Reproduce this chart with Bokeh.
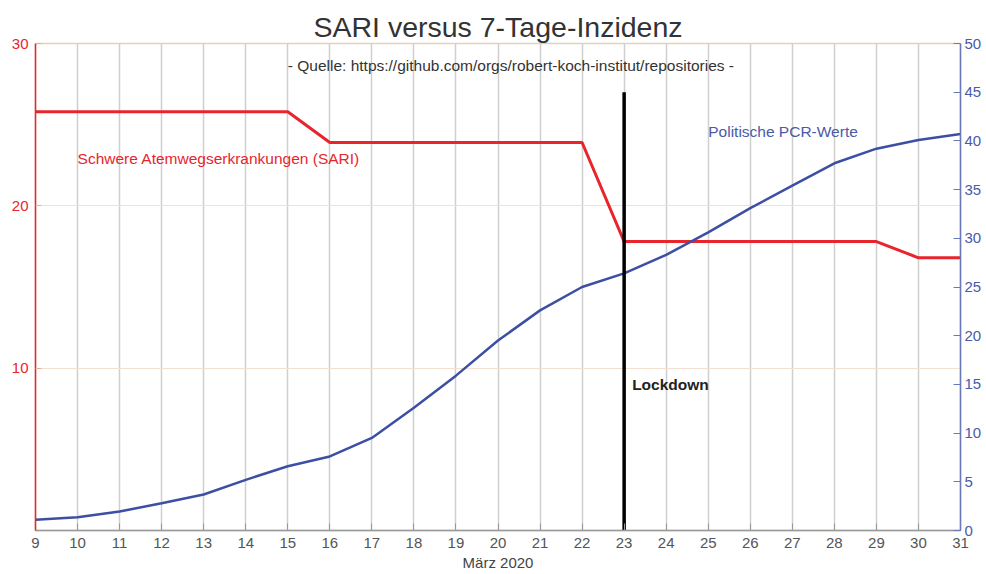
from bokeh.plotting import figure
from bokeh.models import Range1d, LinearAxis, FixedTicker, Label, ColumnDataSource
from bokeh.embed import file_html
from bokeh.resources import INLINE

# ---- data ----
days = list(range(9, 32))
sari = [25.8, 25.8, 25.8, 25.8, 25.8, 25.8, 25.8,
        23.9, 23.9, 23.9, 23.9, 23.9, 23.9, 23.9,
        17.8, 17.8, 17.8, 17.8, 17.8, 17.8, 17.8,
        16.8, 16.8]
pcr = [1.1, 1.35, 1.95, 2.8, 3.7, 5.2, 6.6, 7.6, 9.5, 12.6, 15.9, 19.5,
       22.6, 25.0, 26.4, 28.3, 30.6, 33.1, 35.4, 37.7, 39.2, 40.1, 40.7]
lockdown_day = [23]
lockdown_top = [45]
left_ticks = [10, 20, 30]
right_ticks = [0, 5, 10, 15, 20, 25, 30, 35, 40, 45, 50]

title_text = "SARI versus 7-Tage-Inzidenz"
subtitle_text = "- Quelle: https://github.com/orgs/robert-koch-institut/repositories -"
sari_label = "Schwere Atemwegserkrankungen (SARI)"
pcr_label = "Politische PCR-Werte"
lock_label = "Lockdown"
x_label = "März 2020"

RED = "#e8252d"
BLUE = "#3c4fa3"
FONT = "Liberation Sans"

src = ColumnDataSource(dict(day=days, sari=sari, pcr=pcr))

p = figure(width=984, height=573, output_backend="svg",
           toolbar_location=None, x_range=Range1d(9, 31), y_range=Range1d(0, 30),
           min_border_left=35, min_border_right=0, min_border_top=43,
           min_border_bottom=0, background_fill_color="white",
           border_fill_color="white")
p.extra_y_ranges = {"pcr": Range1d(0, 50)}

p.title.text = title_text
p.title.align = "center"
p.title.vertical_align = "middle"
p.title.text_font = FONT
p.title.text_font_size = "28.5px"
p.title.text_font_style = "normal"
p.title.text_color = "#333333"
p.title.standoff = 0
p.title.offset = 0

p.outline_line_color = "#e8cfb8"
p.outline_line_width = 1.5

# x axis
xa = p.xaxis[0]
xa.ticker = FixedTicker(ticks=days)
xa.axis_line_color = "#999999"
xa.axis_line_width = 1.5
xa.major_tick_in = 7
xa.major_tick_out = 0
xa.major_tick_line_color = "#999999"
xa.minor_tick_line_color = None
xa.major_label_text_font = FONT
xa.major_label_text_font_size = "15px"
xa.major_label_text_color = "#555555"
xa.major_label_standoff = 7
xa.axis_label = x_label
xa.axis_label_text_font = FONT
xa.axis_label_text_font_size = "15px"
xa.axis_label_text_font_style = "normal"
xa.axis_label_text_color = "#444444"
xa.axis_label_standoff = 3

# left axis
ya = p.yaxis[0]
ya.ticker = FixedTicker(ticks=left_ticks)
ya.axis_line_color = RED
ya.axis_line_width = 1.5
ya.major_tick_in = 6
ya.major_tick_out = 0
ya.major_tick_line_color = "#e8b0a0"
ya.minor_tick_line_color = None
ya.major_label_text_font = FONT
ya.major_label_text_font_size = "15px"
ya.major_label_text_color = RED
ya.major_label_standoff = 7

# right axis
ra = LinearAxis(y_range_name="pcr", ticker=FixedTicker(ticks=right_ticks))
ra.axis_line_color = "#6a78b5"
ra.axis_line_width = 1.5
ra.major_tick_in = 7
ra.major_tick_out = 0
ra.major_tick_line_color = "#6a78b5"
ra.minor_tick_line_color = None
ra.major_label_text_font = FONT
ra.major_label_text_font_size = "15px"
ra.major_label_text_color = "#4a5aa8"
ra.major_label_standoff = 4
p.add_layout(ra, "right")

# grids
p.xgrid.ticker = FixedTicker(ticks=days)
p.xgrid.grid_line_color = "#cfcfcf"
p.xgrid.grid_line_width = 1.5
p.ygrid.ticker = FixedTicker(ticks=[10, 20])
p.ygrid.grid_line_color = "#f2e0d0"
p.ygrid.grid_line_width = 1.2

# lines
p.line("day", "sari", source=src, line_color=RED, line_width=3)
p.line("day", "pcr", source=src, line_color=BLUE, line_width=2.5,
       y_range_name="pcr")
p.segment(x0=lockdown_day, y0=[0], x1=lockdown_day, y1=lockdown_top,
          line_color="black", line_width=3.5, y_range_name="pcr")

# labels
p.add_layout(Label(x=15, y=28.65, text=subtitle_text, text_font=FONT,
                   text_font_size="15.5px", text_color="#333333",
                   text_baseline="middle", text_align="left"))
p.add_layout(Label(x=10.0, y=22.9, text=sari_label, text_font=FONT,
                   text_font_size="15.5px", text_color=RED,
                   text_baseline="middle", text_align="left"))
p.add_layout(Label(x=25.0, y=41.0, y_range_name="pcr", text=pcr_label,
                   text_font=FONT, text_font_size="15.5px", text_color="#4a5aa8",
                   text_baseline="middle", text_align="left"))
p.add_layout(Label(x=23.19, y=15.0, y_range_name="pcr", text=lock_label,
                   text_font=FONT, text_font_size="15.5px", text_color="#222222",
                   text_font_style="bold", text_baseline="middle",
                   text_align="left"))

open("out.html", "w").write(file_html(p, INLINE))
